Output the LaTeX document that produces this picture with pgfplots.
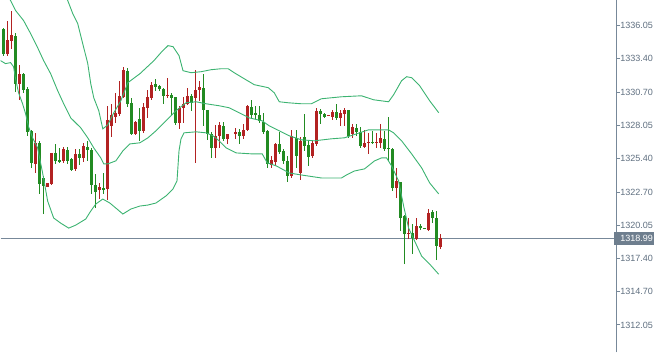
\documentclass[border=0pt]{standalone}
\usepackage{fontspec}
\setmainfont{Liberation Sans}
\usepackage{pgfplots}
\usepackage{pgfplotstable}
\pgfplotsset{compat=1.18}
\definecolor{cred}{HTML}{B22222}
\definecolor{cgreen}{HTML}{228B22}
\definecolor{cband}{HTML}{3CB371}
\definecolor{caxis}{HTML}{778899}
\definecolor{clabel}{HTML}{5F6F80}
\definecolor{cbox}{HTML}{6E7E8E}

% up candles (drawn red): index open high low close
\pgfplotstableread{
i o h l c
1 1333.80 1336.45 1333.64 1334.92
2 1334.84 1337.18 1334.20 1335.33
4 1331.39 1332.91 1330.10 1332.19
8 1324.96 1327.45 1324.23 1326.65
11 1323.11 1323.43 1323.11 1323.43
12 1323.35 1325.84 1323.27 1325.84
15 1325.20 1326.32 1325.04 1326.16
18 1324.56 1326.16 1324.39 1325.76
20 1325.44 1326.65 1325.12 1326.40
24 1322.87 1323.43 1322.14 1323.11
26 1322.95 1329.62 1322.06 1328.49
27 1328.01 1329.78 1327.13 1328.90
28 1328.74 1330.66 1328.25 1329.06
29 1328.98 1331.63 1328.82 1330.42
30 1330.34 1332.75 1330.26 1332.51
33 1327.37 1328.41 1327.29 1328.33
35 1327.61 1329.86 1327.45 1329.54
36 1329.46 1330.91 1328.65 1330.34
37 1330.26 1331.55 1330.10 1331.31
41 1330.42 1331.87 1330.26 1330.50
44 1328.25 1329.62 1327.77 1329.46
45 1329.46 1330.34 1328.25 1329.78
46 1329.78 1331.07 1329.70 1330.42
48 1330.26 1332.51 1325.04 1330.91
49 1330.91 1331.63 1330.02 1331.15
53 1326.24 1328.09 1325.44 1327.21
54 1327.21 1328.33 1326.24 1328.09
56 1326.97 1327.37 1326.56 1327.37
58 1327.37 1327.85 1326.97 1327.53
60 1327.21 1328.17 1326.97 1327.69
61 1327.69 1329.70 1327.61 1329.62
67 1324.88 1325.60 1324.64 1325.28
68 1325.12 1326.65 1324.80 1326.56
72 1323.99 1327.69 1323.83 1327.21
74 1324.23 1327.13 1323.67 1326.81
77 1325.60 1326.81 1325.44 1326.65
78 1326.56 1329.46 1326.40 1329.22
81 1328.82 1328.90 1328.82 1328.90
82 1328.74 1329.30 1328.49 1329.14
84 1328.65 1329.30 1328.01 1329.06
85 1328.98 1329.46 1328.01 1329.30
87 1327.37 1328.17 1327.05 1327.93
90 1326.32 1327.69 1326.24 1326.65
91 1326.65 1327.45 1325.76 1326.73
93 1326.65 1327.45 1326.24 1326.73
94 1326.65 1328.17 1326.24 1327.05
98 1323.03 1324.64 1322.22 1323.59
101 1319.33 1320.62 1318.93 1319.41
103 1318.93 1320.62 1318.85 1319.97
106 1319.65 1321.34 1319.57 1321.02
109 1318.28 1319.33 1318.12 1318.99
}\redtab

% down candles (drawn green): index open high low close
\pgfplotstableread{
i o h l c
0 1335.81 1335.89 1333.64 1333.80
3 1335.25 1335.49 1330.74 1331.39
5 1332.19 1332.27 1330.66 1330.91
6 1330.99 1331.15 1327.21 1327.53
7 1327.61 1327.69 1324.64 1325.04
9 1326.65 1326.81 1322.55 1323.35
10 1323.83 1323.99 1320.94 1323.19
13 1325.84 1326.56 1324.96 1325.20
14 1325.28 1326.24 1325.04 1325.12
16 1326.08 1326.32 1324.96 1325.20
17 1325.36 1325.44 1324.39 1324.47
19 1325.76 1326.16 1324.88 1325.44
21 1326.32 1326.81 1325.20 1326.08
22 1326.08 1326.24 1322.55 1323.27
23 1323.27 1324.15 1321.42 1322.71
25 1323.03 1324.23 1322.55 1322.87
31 1332.43 1332.67 1329.54 1329.78
32 1329.86 1330.26 1327.29 1327.37
34 1328.57 1329.46 1326.81 1327.61
38 1331.39 1331.79 1330.83 1331.15
39 1331.23 1331.31 1330.83 1330.99
40 1330.99 1331.07 1329.78 1330.42
42 1330.50 1330.66 1328.90 1330.26
43 1330.34 1330.34 1328.09 1328.25
47 1330.42 1330.58 1329.22 1329.86
50 1331.07 1332.19 1328.01 1329.30
51 1329.30 1329.30 1326.89 1327.37
52 1327.37 1327.53 1325.44 1326.24
55 1328.01 1328.33 1326.81 1326.97
59 1327.53 1327.77 1326.56 1327.21
62 1329.54 1330.10 1328.65 1328.90
63 1329.06 1329.62 1328.57 1328.90
64 1328.90 1329.62 1328.25 1328.41
65 1328.33 1329.06 1327.37 1327.53
66 1327.61 1327.69 1324.64 1324.96
69 1326.56 1327.53 1325.76 1325.92
70 1326.00 1326.16 1324.96 1325.20
71 1325.20 1325.60 1323.51 1323.99
73 1327.05 1327.69 1324.64 1325.60
75 1327.13 1328.98 1326.00 1326.40
76 1326.48 1326.81 1324.80 1325.52
79 1329.22 1329.38 1328.17 1328.98
80 1328.98 1329.06 1328.65 1328.74
83 1329.14 1329.78 1328.49 1328.65
86 1329.30 1329.30 1327.05 1327.21
88 1327.85 1328.17 1327.21 1327.53
89 1327.53 1327.93 1326.24 1326.40
92 1326.73 1327.61 1326.56 1326.65
95 1326.97 1327.61 1326.00 1326.16
96 1326.24 1328.74 1325.20 1326.16
97 1326.16 1326.24 1322.79 1323.03
99 1323.51 1323.51 1319.57 1320.62
100 1320.78 1320.86 1316.92 1319.33
102 1319.41 1320.13 1317.72 1319.01
104 1319.97 1320.13 1319.65 1319.81
105 1319.81 1319.81 1319.73 1319.73
107 1321.10 1321.26 1320.21 1320.62
108 1320.62 1321.18 1317.24 1318.37
}\greentab

\begin{document}
\begin{tikzpicture}
\begin{axis}[
  scale only axis, width=614pt, height=351pt,
  xmin=-0.675, xmax=152.825, ymin=1309.84, ymax=1338.06,
  clip bounding box=upper bound,
  axis x line=none, axis y line=right,
  y axis line style={-, draw=caxis, line width=1pt},
  xtick=\empty,
  ytick={1312.05,1314.70,1317.40,1320.05,1322.70,1325.40,1328.05,1330.70,1333.40,1336.05},
  yticklabels={1312.05,1314.70,1317.40,1320.05,1322.70,1325.40,1328.05,1330.70,1333.40,1336.05},
  tick align=outside, major tick length=4pt,
  ytick style={draw=caxis, line width=0.8pt},
  yticklabel style={font=\fontsize{9}{10}\selectfont, text=clabel, anchor=west, inner xsep=0pt},
  extra y ticks={1318.99}, extra y tick labels={\hspace*{6pt}1318.99\hspace*{1pt}},
  extra y tick style={grid=major, major grid style={draw=caxis, line width=1pt},
    yticklabel style={fill=cbox, text=white, inner xsep=0pt, inner ysep=3.5pt, xshift=-6pt}},
]
% wicks
\addplot[draw=none, mark=none, error bars/.cd, y dir=plus, y explicit, error mark=none,
  error bar style={draw=cred, line width=1pt}]
  table[x=i, y=l, y error plus expr=\thisrow{h}-\thisrow{l}] {\redtab};
\addplot[draw=none, mark=none, error bars/.cd, y dir=plus, y explicit, error mark=none,
  error bar style={draw=cgreen, line width=1pt}]
  table[x=i, y=l, y error plus expr=\thisrow{h}-\thisrow{l}] {\greentab};
% bodies
\addplot[draw=none, mark=none, error bars/.cd, y dir=plus, y explicit, error mark=none,
  error bar style={draw=cred, line width=3pt}]
  table[x=i, y=o, y error plus expr=\thisrow{c}-\thisrow{o}] {\redtab};
\addplot[draw=none, mark=none, error bars/.cd, y dir=plus, y explicit, error mark=none,
  error bar style={draw=cgreen, line width=3pt}]
  table[x=i, y=c, y error plus expr=\thisrow{o}-\thisrow{c}] {\greentab};
% upper band
\addplot[cband, line width=0.9pt] coordinates {
(14.83,1339.11) (16.08,1338.06) (17.33,1337.02) (18.58,1336.21) (19.83,1334.60)
(21.08,1333.00) (21.83,1331.39) (22.58,1330.26) (23.83,1329.22) (24.83,1327.77)
(26.08,1328.09) (27.58,1329.06) (29.33,1330.02) (31.08,1331.47) (34.08,1332.19)
(37.58,1333.24) (39.33,1333.88) (41.08,1334.44) (42.33,1334.36) (43.83,1333.64)
(44.83,1332.43) (46.83,1332.27) (49.33,1332.35) (51.83,1332.51) (54.33,1332.59)
(56.08,1332.59) (57.58,1332.27) (60.08,1331.79) (62.58,1331.31) (66.08,1331.07)
(67.58,1330.66) (68.83,1329.94) (71.08,1329.86) (74.33,1329.78) (76.83,1329.78)
(79.33,1330.18) (84.33,1330.34) (89.33,1330.42) (92.33,1330.10) (96.08,1329.94)
(97.33,1330.50) (99.33,1331.63) (100.58,1331.95) (101.83,1331.87) (103.83,1331.23)
(106.33,1330.02) (108.58,1329.06)
};
% middle band
\addplot[cband, line width=0.9pt] coordinates {
(-0.68,1339.27) (1.83,1338.06) (3.08,1337.26) (5.08,1336.45) (6.83,1335.41)
(8.58,1334.28) (10.08,1333.24) (11.83,1332.19) (13.58,1330.83) (15.08,1329.78)
(16.83,1328.65) (19.33,1327.85) (21.08,1327.05) (22.58,1326.24) (24.33,1325.44)
(25.08,1324.96) (26.08,1324.96) (28.08,1325.20) (29.83,1326.00) (31.58,1326.56)
(34.08,1326.65) (36.08,1327.05) (38.08,1327.61) (40.58,1328.41) (43.08,1329.22)
(45.58,1329.86) (48.08,1329.94) (50.58,1329.78) (53.83,1329.62) (56.33,1329.46)
(58.83,1329.06) (61.33,1328.65) (64.58,1328.41) (66.33,1328.01) (68.83,1327.61)
(71.33,1327.21) (74.33,1326.89) (77.58,1326.81) (81.83,1326.97) (85.08,1327.05)
(88.08,1327.37) (91.08,1327.69) (96.08,1327.69) (97.33,1327.45) (99.33,1326.81)
(101.83,1325.76) (104.33,1324.64) (106.33,1323.43) (108.58,1322.55)
};
% lower band
\addplot[cband, line width=0.9pt] coordinates {
(-0.68,1333.24) (0.58,1333.00) (1.83,1333.08) (2.58,1332.75) (3.08,1331.79)
(3.83,1330.66) (4.83,1329.78) (5.58,1328.98) (6.33,1327.93) (7.33,1327.05)
(8.58,1326.24) (9.83,1324.23) (11.08,1321.98) (12.58,1320.62) (14.33,1320.21)
(16.33,1319.81) (18.08,1320.05) (20.58,1320.54) (21.83,1321.18) (23.08,1321.74)
(24.83,1322.14) (26.58,1321.82) (28.08,1321.42) (29.83,1320.94) (31.83,1321.34)
(34.08,1321.58) (36.08,1321.66) (38.08,1321.82) (40.58,1322.39) (42.33,1322.95)
(43.33,1323.59) (43.83,1326.00) (44.33,1326.97) (45.08,1327.45) (48.08,1327.53)
(50.58,1327.45) (52.33,1327.21) (53.83,1326.81) (55.58,1326.24) (58.08,1325.84)
(62.08,1325.76) (64.58,1325.76) (65.83,1325.04) (68.08,1324.80) (71.33,1324.23)
(74.33,1324.07) (79.33,1323.83) (84.33,1323.83) (85.58,1324.07) (87.58,1324.39)
(90.08,1324.56) (92.58,1325.20) (94.33,1325.44) (95.58,1325.44) (96.83,1324.80)
(98.58,1323.59) (99.83,1321.58) (101.08,1319.81) (102.58,1318.77) (104.33,1317.56)
(106.33,1316.92) (108.58,1316.11)
};
\end{axis}
\end{tikzpicture}
\end{document}
